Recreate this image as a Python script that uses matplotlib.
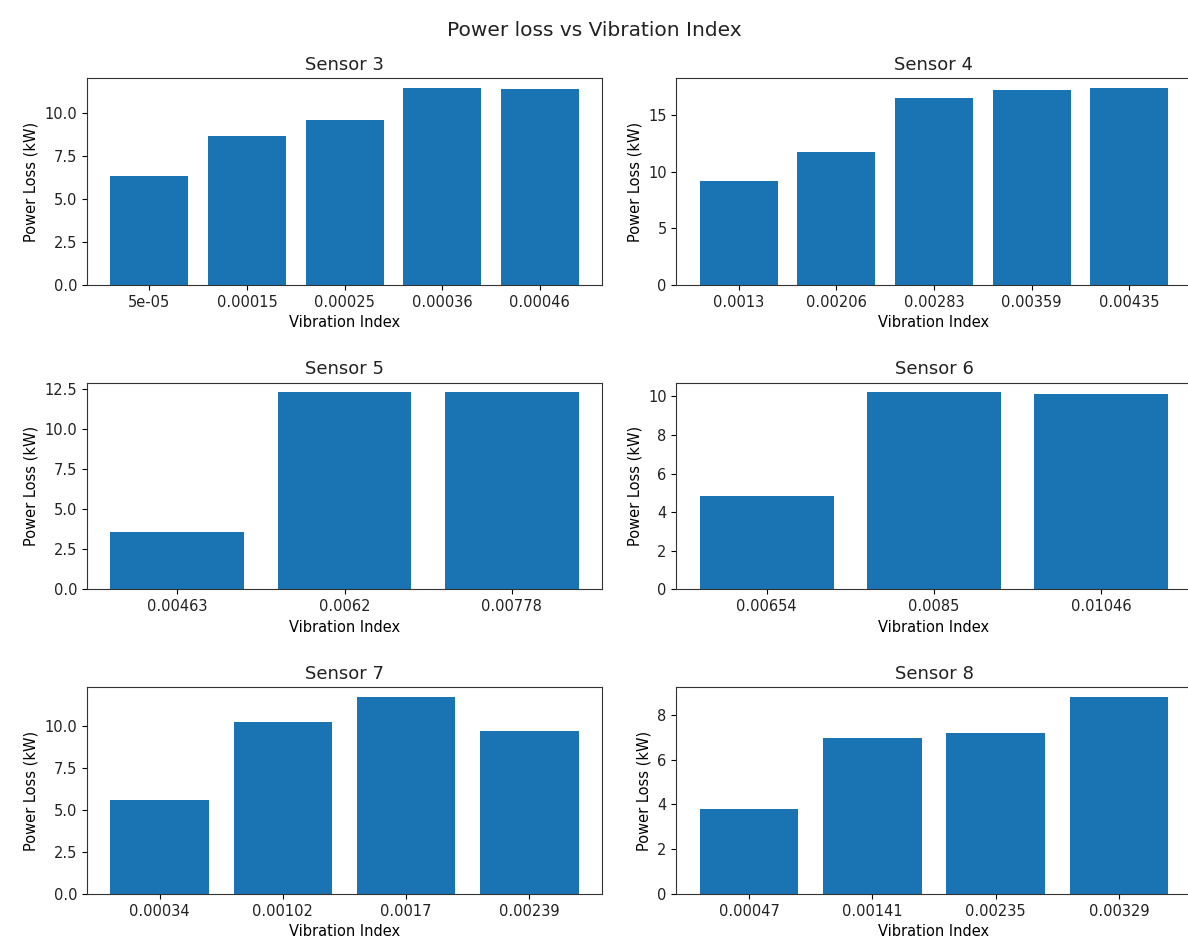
import numpy as np
import pandas as pd
import matplotlib.pyplot as plt
from matplotlib.ticker import MaxNLocator

# vibration index categories and power loss read for each sensor
s3_idx = ["5e-05", "0.00015", "0.00025", "0.00036", "0.00046"]
s3_loss = [6.32, 8.64, 9.62, 11.46, 11.37]

s4_idx = ["0.0013", "0.00206", "0.00283", "0.00359", "0.00435"]
s4_loss = [9.2, 11.75, 16.49, 17.22, 17.37]

s5_idx = ["0.00463", "0.0062", "0.00778"]
s5_loss = [3.6, 12.29, 12.29]

s6_idx = ["0.00654", "0.0085", "0.01046"]
s6_loss = [4.86, 10.21, 10.12]

s7_idx = ["0.00034", "0.00102", "0.0017", "0.00239"]
s7_loss = [5.58, 10.24, 11.74, 9.72]

s8_idx = ["0.00047", "0.00141", "0.00235", "0.00329"]
s8_loss = [3.79, 6.96, 7.17, 8.8]

sensors = ["Sensor 3", "Sensor 4", "Sensor 5", "Sensor 6", "Sensor 7", "Sensor 8"]
all_idx = [s3_idx, s4_idx, s5_idx, s6_idx, s7_idx, s8_idx]
all_loss = [s3_loss, s4_loss, s5_loss, s6_loss, s7_loss, s8_loss]

plt.rcParams['xtick.labelsize'] = 10.5
plt.rcParams['ytick.labelsize'] = 10.5
plt.rcParams['text.color'] = "#222222"
plt.rcParams['xtick.labelcolor'] = "#222222"
plt.rcParams['ytick.labelcolor'] = "#222222"

fig, axes = plt.subplots(3, 2, figsize=(11.88, 9.46), dpi=100)
fig.subplots_adjust(left=0.0732, right=1.003, top=0.9175, bottom=0.055,
                    wspace=0.144, hspace=0.471)

#one bar chart per sensor
for ax, name, idx, loss in zip(axes.flat, sensors, all_idx, all_loss):
    ax.bar(idx, loss, color="#1a74b3")
    ax.set_title(name, fontsize=13)
    ax.set_xlabel("Vibration Index", fontsize=10.5)
    ax.set_ylabel("Power Loss (kW)", fontsize=10.5)
    ax.yaxis.set_major_locator(MaxNLocator(nbins=6, steps=[1, 2, 2.5, 5, 10]))
    for sp in ax.spines.values():
        sp.set_color("#333333")

fig.suptitle("Power loss vs Vibration Index", fontsize=14.5, y=0.978)
plt.savefig("out.png")
